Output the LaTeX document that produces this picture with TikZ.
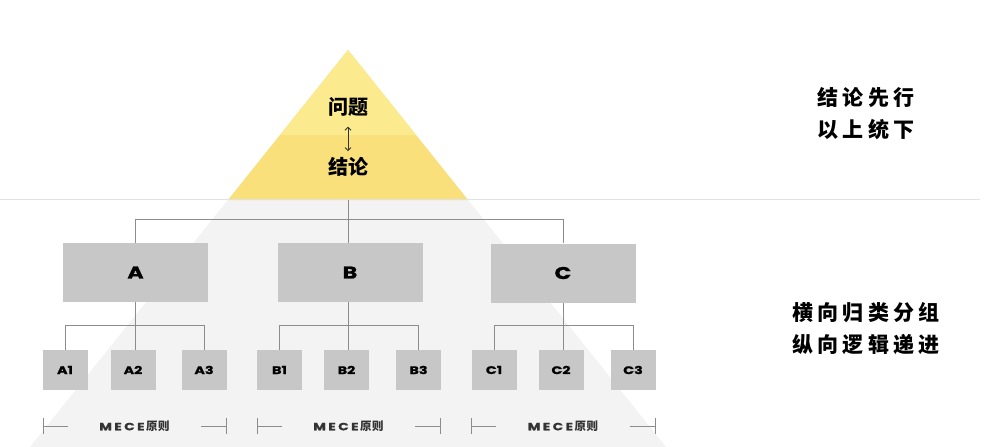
\documentclass[tikz,border=0pt]{standalone}
\usetikzlibrary{arrows.meta}
\usepackage{fontspec}
\newfontfamily\cjk{Noto Sans CJK SC}
\newfontfamily\lat{Poppins}[FakeStretch=1.3, FakeBold=1.2]
\definecolor{yelA}{RGB}{252,235,142}
\definecolor{yelB}{RGB}{249,224,122}
\definecolor{bgG}{RGB}{243,243,243}
\definecolor{boxG}{RGB}{199,199,199}
\definecolor{lineG}{RGB}{140,140,140}
\definecolor{sepG}{RGB}{225,225,225}
\tikzset{
  bigbox/.style={fill=boxG, minimum width=145pt, minimum height=59pt, inner sep=0pt, font=\lat\bfseries\fontsize{17}{17}\selectfont},
  smallbox/.style={fill=boxG, minimum width=45pt, minimum height=40pt, inner sep=0pt, font=\lat\bfseries\fontsize{11}{11}\selectfont},
  conn/.style={draw=lineG, line width=1pt},
  tickl/.style={draw=lineG, line width=0.8pt},
  mece/.style={font=\lat\bfseries\fontsize{10.5}{10.5}\selectfont\addfontfeatures{LetterSpace=24}, text=black!80, inner sep=0pt},
  cjkt/.style={font=\cjk\bfseries\fontsize{20}{20}\selectfont, inner sep=0pt},
  side/.style={font=\cjk\bfseries\fontsize{21}{32}\selectfont\addfontfeatures{LetterSpace=20}, align=center, inner sep=0pt}
}
\begin{document}
\begin{tikzpicture}[x=1pt,y=-1pt]
\useasboundingbox (0,0) rectangle (994,447);
\fill[white] (0,0) rectangle (994,447);
% grey pyramid body
\fill[bgG] (348,50) -- (30,447) -- (666,447) -- cycle;
% yellow pyramid top
\fill[yelB] (348,50) -- (228,200) -- (468,200) -- cycle;
\fill[yelA] (348,50) -- (280,135) -- (416,135) -- cycle;
% separator
\draw[sepG, line width=0.8pt] (0,199.5) -- (980,199.5);
% pyramid texts
\node[cjkt] (q) at (348,107) {问题};
\node[cjkt] (c) at (348,167) {结论};
\draw[black!80, line width=0.9pt, {Straight Barb[length=3pt,width=6pt]}-{Straight Barb[length=3pt,width=6pt]}, shorten <=10pt, shorten >=6pt] (q.south) -- (c.north);
% side texts
\node[side] (s1) at (866,114) {结论先行\\以上统下};
\node[side] (s2) at (866,329) {横向归类分组\\纵向逻辑递进};
% big boxes
\node[bigbox] (A) at (135.5,272.5) {A};
\node[bigbox] (B) at (350,272.5) {B};
\node[bigbox] (C) at (563,273) {C};
% small boxes
\node[smallbox] (A1) at (65,370) {A1};
\node[smallbox] (A2) at (133,370) {A2};
\node[smallbox] (A3) at (204,370) {A3};
\node[smallbox] (B1) at (279.5,370) {B1};
\node[smallbox] (B2) at (346.5,370) {B2};
\node[smallbox] (B3) at (418.5,370) {B3};
\node[smallbox] (C1) at (494,370) {C1};
\node[smallbox] (C2) at (561,370) {C2};
\node[smallbox] (C3) at (633,370) {C3};
% connectors top
\coordinate (top) at (348,200);
\draw[conn] (top) -- (348,219) -| (A.north);
\draw[conn] (348,219) -| (C.north);
\draw[conn] (top) -- (B.north -| top);
% A group
\draw[conn] (A.south) -- (A2.north -| A.south);
\draw[conn] (A1.north) |- (135.5,325.5) -| (A3.north);
% B group
\draw[conn] (B.south -| top) -- (B2.north -| top);
\draw[conn] (B1.north) |- (348,325.5) -| (B3.north);
% C group
\draw[conn] (C.south) -- (C2.north -| C.south);
\draw[conn] (C1.north) |- (563,325.5) -| (C3.north);
% MECE rows
\foreach \l/\r/\n in {43/226/ma,257/440/mb,471/655/mc}{
  \coordinate (\n L) at (\l,426);
  \coordinate (\n R) at (\r,426);
  \node[mece] (\n) at ({(\l+\r)/2},426) {MECE\hspace{1.5pt}{\cjk\bfseries\fontsize{11.5}{11.5}\selectfont\addfontfeatures{LetterSpace=5}原则}};
  \draw[tickl] (\n L) ++(0,-8) -- ++(0,16);
  \draw[tickl] (\n R) ++(0,-8) -- ++(0,16);
  \draw[tickl] (\n L) -- ++(25,0);
  \draw[tickl] (\n R) -- ++(-25,0);
}
\end{tikzpicture}
\end{document}
